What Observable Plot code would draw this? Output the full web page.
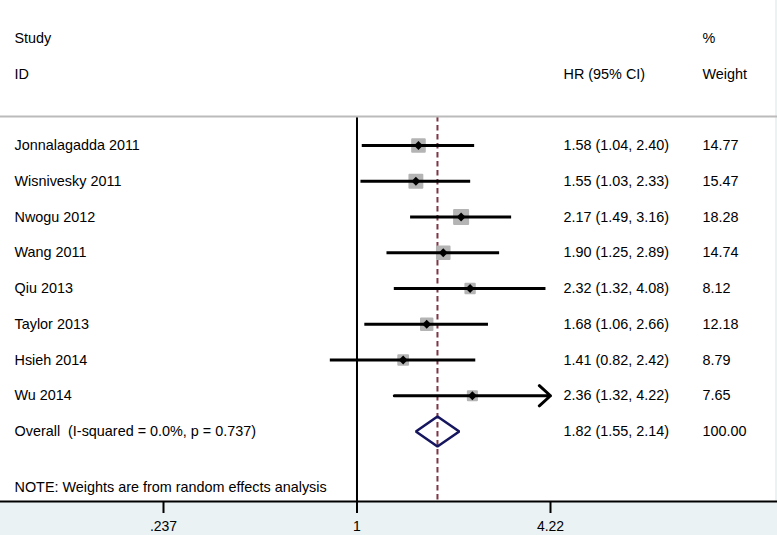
<!DOCTYPE html>
<html><head><meta charset="utf-8">
<script src="https://cdn.jsdelivr.net/npm/d3@7"></script>
<script src="https://cdn.jsdelivr.net/npm/@observablehq/plot@0.6"></script>
<style>
html,body{margin:0;padding:0;background:#fff;}
#chart svg{display:block;}
</style></head><body><div id="chart"></div>
<script>
const studies = ["Jonnalagadda 2011","Wisnivesky 2011","Nwogu 2012","Wang 2011","Qiu 2013","Taylor 2013","Hsieh 2014","Wu 2014"];
const hr     = [1.58, 1.55, 2.17, 1.90, 2.32, 1.68, 1.41, 2.36];
const lower  = [1.04, 1.03, 1.49, 1.25, 1.32, 1.06, 0.82, 1.32];
const upper  = [2.40, 2.33, 3.16, 2.89, 4.08, 2.66, 2.42, 4.22];
const weight = [14.77, 15.47, 18.28, 14.74, 8.12, 12.18, 8.79, 7.65];
const overallLabel = "Overall \u00a0(I-squared = 0.0%, p = 0.737)";
const overallHR = 1.82, overallLower = 1.55, overallUpper = 2.14, overallWeight = 100.00;
const xTicks = [0.237, 1, 4.22];
const tickLabels = [".237", "1", "4.22"];
const headerStudy = ["Study", "ID"];
const headerHR = "HR (95% CI)";
const headerWeight = ["%", "Weight"];
const noteText = "NOTE: Weights are from random effects analysis";

const rows = studies.map((s, i) => ({row: i, study: s, hr: hr[i], lo: lower[i], hi: upper[i], w: weight[i]}));
const overall = {row: studies.length, study: overallLabel, hr: overallHR, lo: overallLower, hi: overallUpper, w: overallWeight};
const allRows = [...rows, overall];
const xMax = xTicks[xTicks.length - 1];
const clipped = rows.filter(d => d.hi >= xMax);
const normal = rows.filter(d => d.hi < xMax);
const dh = 0.42;
const diamond = [
  {x: overall.lo, y: overall.row},
  {x: overall.hr, y: overall.row - dh},
  {x: overall.hi, y: overall.row},
  {x: overall.hr, y: overall.row + dh}
];
const headStudy = headerStudy.map((t, i) => ({text: t, row: -3 + i}));
const headW = headerWeight.map((t, i) => ({text: t, row: -3 + i}));
const headHR = [{text: headerHR, row: -2}];
const note = [{text: noteText, row: 9.55}];
const fmt = v => v.toFixed(2);
const font = "'Liberation Sans', Arial, sans-serif";
const fs = 14.4;

const chart = Plot.plot({
  width: 777, height: 535,
  marginTop: 116, marginBottom: 34, marginLeft: 0, marginRight: 0,
  style: {fontFamily: font, fontSize: "14px", color: "#000",
    background: "linear-gradient(to right, rgba(255,255,255,0) 775px, #eaf2f3 775px), linear-gradient(to bottom, #fff 501px, #eaf2f3 501px)"},
  x: {type: "log", domain: [xTicks[0], xMax], range: [163, 550], axis: null},
  y: {domain: [0, studies.length], range: [145, 431], axis: null},
  r: {type: "sqrt", domain: [0, 100], range: [0, 18.5]},
  marks: [
    Plot.ruleX([overall.hr], {stroke: "#7d3646", strokeWidth: 2, strokeDasharray: "5.5,3.5"}),
    Plot.ruleX([1], {stroke: "#000", strokeWidth: 2}),
    Plot.frame({anchor: "top", stroke: "#bbbbbb", strokeWidth: 2}),
    Plot.frame({anchor: "bottom", stroke: "#000", strokeWidth: 2}),
    Plot.dot(rows, {x: "hr", y: "row", r: "w", symbol: "square", fill: "#b4b4b4", stroke: "#b4b4b4", strokeWidth: 2, strokeLinejoin: "round"}),
    Plot.ruleY(normal, {y: "row", x1: "lo", x2: "hi", stroke: "#000", strokeWidth: 3}),
    Plot.arrow(clipped, {x1: "lo", x2: "hi", y1: "row", y2: "row", stroke: "#000", strokeWidth: 3, headAngle: 84, headLength: 7.5}),
    Plot.dot(rows, {x: "hr", y: "row", r: 4, symbol: "diamond2", fill: "#000"}),
    Plot.line(diamond, {x: "x", y: "y", curve: "linear-closed", stroke: "#16165f", strokeWidth: 2.6, strokeLinejoin: "miter"}),
    Plot.text(allRows, {y: "row", text: "study", frameAnchor: "left", textAnchor: "start", dx: 14, fontSize: fs, fill: "#000"}),
    Plot.text(allRows, {y: "row", text: d => `${fmt(d.hr)} (${fmt(d.lo)}, ${fmt(d.hi)})`, frameAnchor: "left", textAnchor: "start", dx: 563, fontSize: fs, fill: "#000"}),
    Plot.text(allRows, {y: "row", text: d => fmt(d.w), frameAnchor: "left", textAnchor: "start", dx: 702, fontSize: fs, fill: "#000"}),
    Plot.text(headStudy, {y: "row", text: "text", frameAnchor: "left", textAnchor: "start", dx: 14, fontSize: fs, fill: "#000"}),
    Plot.text(headHR, {y: "row", text: "text", frameAnchor: "left", textAnchor: "start", dx: 563, fontSize: fs, fill: "#000"}),
    Plot.text(headW, {y: "row", text: "text", frameAnchor: "left", textAnchor: "start", dx: 702, fontSize: fs, fill: "#000"}),
    Plot.text(note, {y: "row", text: "text", frameAnchor: "left", textAnchor: "start", dx: 14, fontSize: fs, fill: "#000"}),
    Plot.axisX(xTicks, {anchor: "bottom", tickSize: 12, tickPadding: 8, strokeWidth: 2, stroke: "#000", fill: "#000", fontSize: 14,
      tickFormat: d => tickLabels[xTicks.indexOf(d)], label: null})
  ]
});
document.getElementById("chart").append(chart);
</script></body></html>
